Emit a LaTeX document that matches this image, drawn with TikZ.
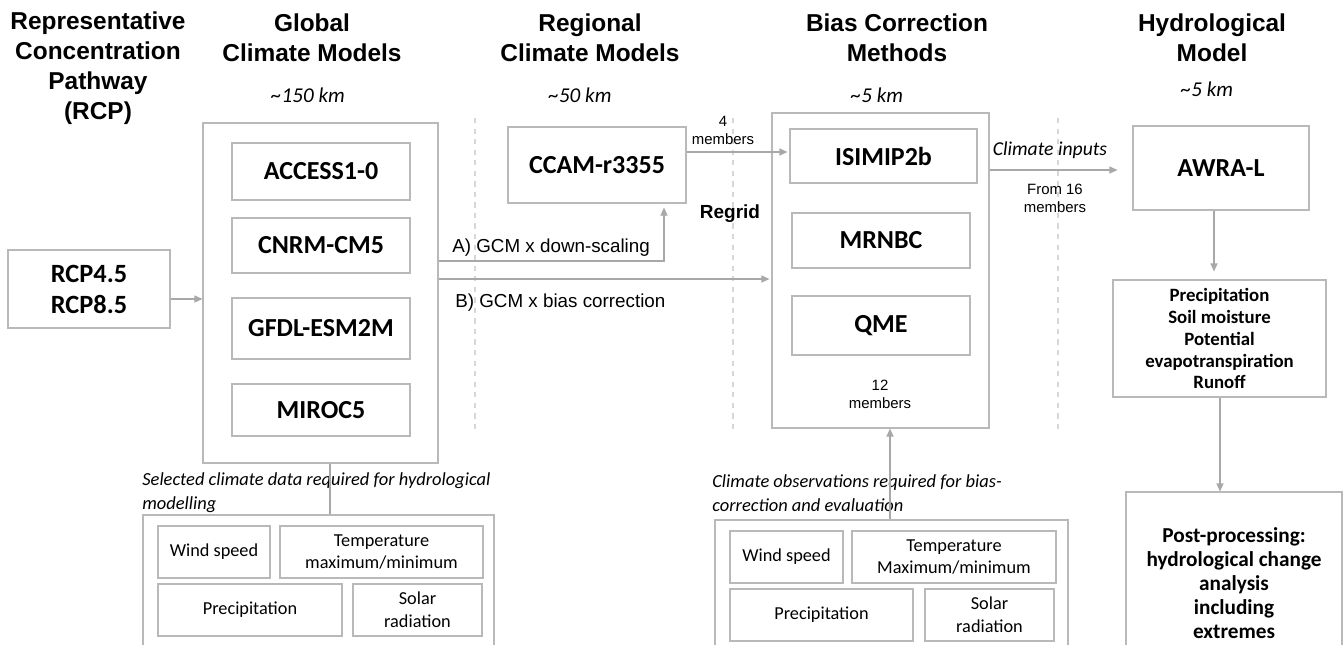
\documentclass[tikz,border=0pt]{standalone}
\usepackage{fontspec}
\setmainfont{Carlito}
\newfontfamily\arialfont{Liberation Sans}
\usetikzlibrary{arrows.meta}
\definecolor{boxgray}{RGB}{185,185,185}
\definecolor{linegray}{RGB}{168,168,168}
\definecolor{sepgray}{RGB}{215,215,215}

\begin{document}
\begin{tikzpicture}[x=0.2mm,y=-0.2mm]
	\tikzset{
		box/.style 2 args={draw=boxgray, line width=0.6pt, inner sep=0pt, align=center,
			minimum width=#1*0.2mm, minimum height=#2*0.2mm},
		model/.style={font=\bfseries\fontsize{14.8}{17.6}\selectfont},
		var/.style={font=\fontsize{10.4}{13}\selectfont},
		head/.style={font=\arialfont\bfseries\fontsize{13.9}{17}\selectfont, align=center},
		km/.style={font=\itshape\fontsize{12}{14}\selectfont},
		lab/.style={font=\arialfont\fontsize{10.7}{13}\selectfont, inner sep=0pt},
		small/.style={font=\arialfont\fontsize{8.5}{10.2}\selectfont, align=center},
		note/.style={font=\itshape\fontsize{10.5}{13.7}\selectfont, align=left, inner sep=0pt},
		arr/.style={draw=linegray, line width=0.6pt, -{Triangle[length=1.6mm,width=1.4mm]}},
		sep/.style={draw=sepgray, line width=0.6pt, dashed}
	}
	\useasboundingbox (0,0) rectangle (1344,644);
	\fill[white] (0,0) rectangle (1344,644);
	\clip (0,0) rectangle (1344,644);

	% column titles
	\node[head] (h1) at (98,68)   {Representative\\Concentration\\Pathway\\(RCP)};
	\node[head] (h2) at (312,38)  {Global\\Climate Models};
	\node[head] (h3) at (590,38)  {Regional\\Climate Models};
	\node[head] (h4) at (897,38)  {Bias Correction\\Methods};
	\node[head] (h5) at (1212,38) {Hydrological\\Model};
	\node[km] (k2) at (308,95)  {\textasciitilde150 km};
	\node[km] (k3) at (580,95)  {\textasciitilde50 km};
	\node[km] (k4) at (877,95)  {\textasciitilde5 km};
	\node[km] (k5) at (1207,89) {\textasciitilde5 km};

	% separators
	\foreach \sx in {475,733,1058}
		\draw[sep] (\sx,118) -- (\sx,434);

	% scenarios and GCMs
	\node[box={162}{78}, model, font=\bfseries\fontsize{15}{17.6}\selectfont] (rcp) at (89,289) {RCP4.5\\RCP8.5};
	\node[box={235}{340}] (gcm) at (320.5,293) {};
	\node[box={178}{57}, model] (access) at (321,171.5) {ACCESS1-0};
	\node[box={178}{55}, model] (cnrm)   at (321,245.5) {CNRM-CM5};
	\node[box={178}{61}, model] (gfdl)   at (321,328.5) {GFDL-ESM2M};
	\node[box={178}{52}, model] (miroc)  at (321,410)   {MIROC5};

	% RCM
	\node[box={178}{76}, model] (ccam) at (597,165) {CCAM-r3355};

	% bias correction
	\node[box={217}{315}] (bc) at (880.5,270.5) {};
	\node[box={187}{54}, model] (isimip) at (883.5,156)  {ISIMIP2b};
	\node[box={178}{55}, model] (mrnbc)  at (881,240.5)  {MRNBC};
	\node[box={178}{59}, model] (qme)    at (881,325.5)  {QME};
	\node[small] (m12) at (880,394) {12\\members};

	% hydrology
	\node[box={176}{84}, model] (awra) at (1221,168) {AWRA-L};
	\node[box={213}{117}, font=\bfseries\fontsize{10.7}{12.5}\selectfont] (outv) at (1219.5,338.5)
		{Precipitation\\Soil moisture\\Potential\\evapotranspiration\\Runoff};
	\node[box={216}{182}, font=\bfseries\fontsize{12.1}{13.6}\selectfont] (post) at (1234,583)
		{Post-processing:\\hydrological change\\analysis\\including\\extremes};

	% selected GCM variables
	\node[note, anchor=west] (selnote) at (142,493) {Selected climate data required for hydrological\\modelling};
	\node[box={351}{145}] (sel) at (318.5,587.5) {};
	\node[box={112}{52}, var] (windl)  at (214,552)   {Wind speed};
	\node[box={203}{52}, var] (templ)  at (381.5,552) {Temperature\\maximum/minimum};
	\node[box={184}{52}, var] (precl)  at (250,610)   {Precipitation};
	\node[box={129}{52}, var] (solarl) at (417.5,610) {Solar\\radiation};

	% observations
	\node[note, anchor=west] (obsnote) at (712,493) {Climate observations required for bias-\\correction and evaluation};
	\node[box={353}{140}] (obs) at (891.5,590) {};
	\node[box={113}{52}, var] (windr)  at (786.5,557) {Wind speed};
	\node[box={204}{52}, var] (tempr)  at (954,557)   {Temperature\\Maximum/minimum};
	\node[box={183}{52}, var] (precr)  at (821.5,615) {Precipitation};
	\node[box={129}{52}, var] (solarr) at (989.5,615) {Solar\\radiation};

	% connectors
	\draw[arr] (rcp.east |- 0,299) -- (gcm.west |- 0,299);
	\draw[arr, shorten >=0.8mm] (gcm.east |- 0,261) -| (ccam.south -| 664,0);
	\node[lab, anchor=west] (pa) at (452,248) {A) GCM x down-scaling};
	\draw[arr, shorten >=0.4mm] (gcm.east |- 0,279) -- (bc.west |- 0,279);
	\node[lab, anchor=west] (pb) at (455,303) {B) GCM x bias correction};
	\draw[arr, shorten >=0.4mm] (ccam.east |- 0,152) -- (isimip.west |- 0,152);
	\node[small] (m4) at (723,130) {4\\members};
	\node[font=\arialfont\bfseries\fontsize{10.8}{13}\selectfont] (regrid) at (730,214) {Regrid};
	\draw[arr, shorten >=3mm] (bc.east |- 0,170) -- (awra.west |- 0,170);
	\node[font=\itshape\fontsize{11.2}{13}\selectfont] (cin) at (1050,150) {Climate inputs};
	\node[small] (m16) at (1055,198) {From 16\\members};
	\draw[arr, shorten >=1.6mm] (awra.south -| 1214,0) -- (outv.north -| 1214,0);
	\draw[arr] (outv.south -| 1220,0) -- (post.north -| 1220,0);
	\draw[draw=linegray, line width=0.6pt] (gcm.south -| 330,0) -- (sel.north -| 330,0);
	\draw[arr] (obs.north -| 890,0) -- (bc.south -| 890,0);
\end{tikzpicture}
\end{document}
